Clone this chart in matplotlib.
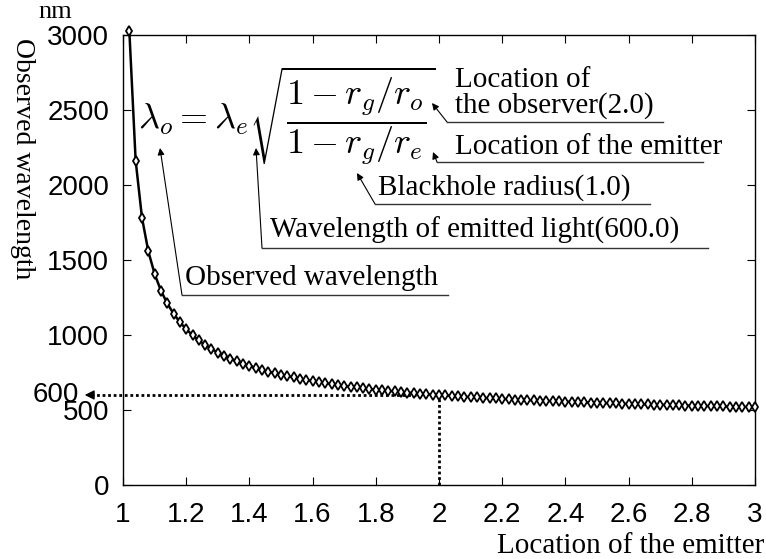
import numpy as np
import matplotlib.pyplot as plt
from matplotlib.lines import Line2D

# emitter radius (in units of the blackhole radius) and observed wavelength in nm
emitter_r = [1.02, 1.04, 1.06, 1.08, 1.10, 1.12, 1.14, 1.16, 1.18, 1.20,
             1.22, 1.24, 1.26, 1.28, 1.30, 1.32, 1.34, 1.36, 1.38, 1.40,
             1.42, 1.44, 1.46, 1.48, 1.50, 1.52, 1.54, 1.56, 1.58, 1.60,
             1.62, 1.64, 1.66, 1.68, 1.70, 1.72, 1.74, 1.76, 1.78, 1.80,
             1.82, 1.84, 1.86, 1.88, 1.90, 1.92, 1.94, 1.96, 1.98, 2.00,
             2.02, 2.04, 2.06, 2.08, 2.10, 2.12, 2.14, 2.16, 2.18, 2.20,
             2.22, 2.24, 2.26, 2.28, 2.30, 2.32, 2.34, 2.36, 2.38, 2.40,
             2.42, 2.44, 2.46, 2.48, 2.50, 2.52, 2.54, 2.56, 2.58, 2.60,
             2.62, 2.64, 2.66, 2.68, 2.70, 2.72, 2.74, 2.76, 2.78, 2.80,
             2.82, 2.84, 2.86, 2.88, 2.90, 2.92, 2.94, 2.96, 2.98, 3.00]
observed_nm = [3030, 2163, 1783, 1559, 1407, 1296, 1211, 1142, 1086, 1039,
               999, 964, 934, 907, 883, 862, 842, 825, 809, 794,
               780, 768, 756, 745, 735, 725, 717, 708, 700, 693,
               686, 679, 673, 667, 661, 656, 651, 646, 641, 636,
               632, 628, 624, 620, 616, 613, 610, 606, 603, 600,
               597, 594, 592, 589, 586, 584, 581, 579, 577, 575,
               572, 570, 568, 566, 564, 563, 561, 559, 557, 556,
               554, 552, 551, 549, 548, 546, 545, 544, 542, 541,
               540, 538, 537, 536, 535, 534, 532, 531, 530, 529,
               528, 527, 526, 525, 524, 523, 522, 521, 521, 520]

observer_r = 2.0
emitted_nm = 600.0

x_ticks = [1, 1.2, 1.4, 1.6, 1.8, 2, 2.2, 2.4, 2.6, 2.8, 3]
x_tick_labels = ['1', '1.2', '1.4', '1.6', '1.8', '2', '2.2', '2.4', '2.6', '2.8', '3']
y_ticks = [0, 500, 1000, 1500, 2000, 2500, 3000]

SANS = ['Liberation Sans', 'DejaVu Sans']
SERIF = ['Liberation Serif', 'DejaVu Serif']
plt.rcParams['mathtext.fontset'] = 'cm'

W, H = 766, 559
fig = plt.figure(figsize=(W / 100, H / 100), dpi=100)
ax = fig.add_axes([123 / W, 1 - 485 / H, (755 - 123) / W, (485 - 35) / H])


def px(x, y):
    # pixel position (from top-left) to figure fraction
    return (x / W, 1 - y / H)


ax.plot(emitter_r, observed_nm, color='black', lw=1.8, marker='d', ms=5.5,
        mfc='white', mec='black', mew=1.3, clip_on=False, zorder=3)

ax.set_xlim(1, 3)
ax.set_ylim(0, 3000)
ax.set_xticks(x_ticks)
ax.set_xticklabels(x_tick_labels)
ax.set_yticks(y_ticks)
ax.tick_params(direction='in', top=True, right=True, length=6, width=0.8,
               labelsize=20)
ax.tick_params(axis='x', pad=12)
ax.tick_params(axis='y', pad=10)
for lab in ax.get_xticklabels() + ax.get_yticklabels():
    lab.set_family(SANS)
for s in ax.spines.values():
    s.set_linewidth(1.0)

# dotted guides at the observer location / emitted wavelength
ax.plot([observer_r, observer_r], [0, emitted_nm], ls=(0, (1, 1)), color='black', lw=2)
ax.plot([0.9, observer_r], [emitted_nm, emitted_nm], ls=(0, (1, 1)), color='black',
        lw=2, clip_on=False)
ax.annotate('', xy=(0.87, emitted_nm), xytext=(0.91, emitted_nm),
            arrowprops=dict(arrowstyle='-|>', color='black', lw=1,
                            mutation_scale=14), annotation_clip=False)
ax.text(0.86, emitted_nm, '600', ha='right', va='center', fontsize=20,
        family=SANS)

# axis titles
fig.text(*px(764, 546), 'Location of the emitter', ha='right', va='center',
         fontsize=21, family=SERIF)
fig.text(*px(22, 38), 'Observed wavelength', ha='center', va='top',
         rotation=-90, fontsize=20, family=SERIF)
fig.text(*px(55, 12), 'nm', ha='center', va='center', fontsize=19, family=SERIF)

# redshift formula
fig.text(*px(287, 116),
         r'$\lambda_o = \lambda_e\sqrt{\dfrac{1-r_g/r_o}{1-r_g/r_e}}$',
         ha='center', va='center', fontsize=26)

# labelled parts of the formula: text, underline, arrow tip
notes = [
    ('Location of\nthe observer(2.0)', (455, 93), (447, 663, 122), (432, 103)),
    ('Location of the emitter', (455, 147), (437, 703, 162), (433, 152)),
    ('Blackhole radius(1.0)', (378, 188), (375, 650, 204), (357, 173)),
    ('Wavelength of emitted light(600.0)', (270, 230), (262, 708, 248), (256, 148)),
    ('Observed wavelength', (185, 278), (182, 448, 295), (160, 148)),
]
for label, (tx, ty), (ux0, ux1, uy), (tip_x, tip_y) in notes:
    fig.text(*px(tx, ty), label, ha='left', va='center', fontsize=21,
             family=SERIF, linespacing=1.0)
    x0, y0 = px(ux0, uy)
    x1, _ = px(ux1, uy)
    fig.add_artist(Line2D([x0, x1], [y0, y0], color='#333333', lw=1,
                          transform=fig.transFigure))
    ax.annotate('', xy=px(tip_x, tip_y), xytext=(x0, y0),
                xycoords='figure fraction', textcoords='figure fraction',
                arrowprops=dict(arrowstyle='-|>', color='black', lw=0.8,
                                mutation_scale=10, shrinkA=0, shrinkB=0))

fig.savefig('out.png', dpi=100)
